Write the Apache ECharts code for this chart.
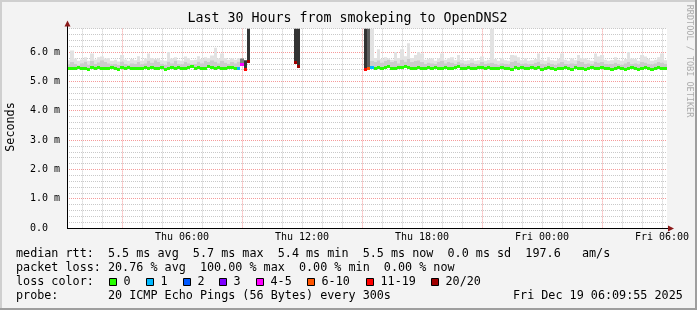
<!DOCTYPE html>
<html><head><meta charset="utf-8">
<script src="https://cdn.jsdelivr.net/npm/echarts@6/dist/echarts.min.js"></script>
<style>html,body{margin:0;padding:0;background:#f3f3f3}#c{width:697px;height:310px}</style>
</head><body><div id="c"></div>
<script>
// ---- data: 180 bins of 10 minutes, Thu 00:15 .. Fri 06:15 (ms) ----
const median = [
5.46,5.44,5.47,5.50,5.45,5.47,5.43,5.48,5.45,5.49,
5.47,5.44,5.46,5.49,5.45,5.43,5.48,5.46,5.50,5.45,
5.47,5.44,5.46,5.48,5.45,5.50,5.47,5.44,5.48,5.43,
5.47,5.50,5.45,5.48,5.44,5.46,5.49,5.51,5.46,5.48,
5.45,5.47,5.51,5.48,5.45,5.49,5.47,5.44,5.48,5.50,
5.47,5.46,5.58,5.43,5.68,null,null,null,null,null,
null,null,null,null,null,null,null,null,5.66,5.54,
null,null,null,null,null,null,null,null,null,null,
null,null,null,null,null,null,null,null,null,5.43,
5.46,5.48,5.47,5.50,5.46,5.48,5.51,5.47,5.45,5.49,
5.48,5.51,5.49,5.47,5.45,5.50,5.47,5.44,5.49,5.47,
5.50,5.47,5.45,5.49,5.47,5.44,5.48,5.51,5.47,5.45,
5.49,5.47,5.44,5.48,5.50,5.46,5.48,5.47,5.44,5.47,
5.49,5.45,5.47,5.43,5.48,5.46,5.50,5.47,5.44,5.48,
5.45,5.48,5.43,5.46,5.49,5.45,5.43,5.47,5.45,5.48,
5.46,5.43,5.48,5.45,5.47,5.43,5.46,5.49,5.45,5.44,
5.48,5.45,5.47,5.43,5.46,5.49,5.45,5.43,5.46,5.48,
5.46,5.43,5.47,5.49,5.45,5.43,5.46,5.48,5.45,5.46
];
const smokeMid = [
5.58,5.66,5.60,5.55,5.62,5.68,5.57,5.70,5.60,5.65,
5.72,5.66,5.62,5.58,5.60,5.56,5.68,5.60,5.57,5.62,
5.60,5.66,5.58,5.62,5.70,5.64,5.72,5.66,5.60,5.57,
5.68,5.62,5.70,5.60,5.58,5.66,5.62,5.58,5.60,5.68,
5.62,5.70,5.66,5.72,5.68,5.62,5.70,5.64,5.60,5.66,
5.62,5.68,5.78,5.72,6.80,null,null,null,null,null,
null,null,null,null,null,null,null,null,6.80,6.80,
null,null,null,null,null,null,null,null,null,null,
null,null,null,null,null,null,null,null,null,6.80,
6.80,5.70,5.66,5.72,5.64,5.70,5.74,5.66,5.70,5.62,
5.74,5.68,5.76,5.66,5.70,5.72,5.66,5.60,5.64,5.62,
5.60,5.66,5.70,5.62,5.66,5.64,5.60,5.68,5.62,5.58,
5.60,5.64,5.60,5.58,5.66,5.60,5.62,5.64,5.60,5.57,
5.62,5.60,5.58,5.66,5.70,5.64,5.60,5.62,5.58,5.60,
5.64,5.68,5.60,5.58,5.64,5.60,5.57,5.62,5.66,5.60,
5.58,5.62,5.60,5.70,5.66,5.60,5.62,5.58,5.68,5.64,
5.66,5.60,5.58,5.60,5.64,5.60,5.57,5.62,5.66,5.60,
5.62,5.58,5.66,5.64,5.60,5.58,5.62,5.66,5.64,5.60
];
const smokePeak = [
5.72,6.05,5.78,5.70,5.75,5.82,5.70,5.95,5.75,5.82,
5.85,5.78,5.80,5.70,5.74,5.68,5.90,5.75,5.70,5.76,
5.72,5.86,5.70,5.78,5.95,5.80,5.76,5.78,5.72,5.70,
6.00,5.78,5.82,5.72,5.70,5.85,5.80,5.72,5.74,5.86,
5.76,5.82,5.80,5.88,6.15,5.78,5.95,5.80,5.74,5.78,
5.74,5.80,5.78,5.72,6.80,null,null,null,null,null,
null,null,null,null,null,null,null,null,6.80,6.80,
null,null,null,null,null,null,null,null,null,null,
null,null,null,null,null,null,null,null,null,6.80,
6.80,6.80,5.80,6.10,5.76,5.82,5.78,5.74,6.00,5.80,
6.10,5.86,6.30,5.80,5.90,6.00,5.95,5.74,5.76,5.78,
5.70,5.78,5.95,5.74,5.80,5.82,5.72,5.90,5.74,5.70,
5.72,5.78,5.70,5.72,5.85,5.70,5.74,6.80,5.76,5.70,
5.80,5.72,5.70,5.90,5.88,5.82,5.72,5.78,5.70,5.72,
5.76,5.95,5.74,5.70,5.82,5.72,5.70,5.76,5.95,5.74,
5.70,5.78,5.72,5.90,5.80,5.78,5.74,5.70,5.95,5.85,
5.90,5.74,5.70,5.72,5.82,5.74,5.70,5.76,6.00,5.78,
5.76,5.70,5.90,5.85,5.76,5.70,5.74,5.82,5.95,5.72
];
const lossCount = [
0,0,0,0,0,0,0,0,0,0, 0,0,0,0,0,0,0,0,0,0,
0,0,0,0,0,0,0,0,0,0, 0,0,0,0,0,0,0,0,0,0,
0,0,0,0,0,0,0,0,0,0, 0,1,5,15,20,null,null,null,null,null,
null,null,null,null,null,null,null,null,20,20,
null,null,null,null,null,null,null,null,null,null,
null,null,null,null,null,null,null,null,null,15,
8,1,0,0,0,0,0,0,0,0, 0,0,0,0,0,0,0,0,0,0,
0,0,0,0,0,0,0,0,0,0, 0,0,0,0,0,0,0,0,0,0,
0,0,0,0,0,0,0,0,0,0, 0,0,0,0,0,0,0,0,0,0,
0,0,0,0,0,0,0,0,0,0, 0,0,0,0,0,0,0,0,0,0,
0,0,0,0,0,0,0,0,0,0, 0,0,0,0,0,0,0,0,0,0
];
const xTickLabels = ['Thu 06:00','Thu 12:00','Thu 18:00','Fri 00:00','Fri 06:00'];
const yTickLabels = ['0.0','1.0 m','2.0 m','3.0 m','4.0 m','5.0 m','6.0 m'];
const lossLegend = ['0','1','2','3','4-5','6-10','11-19','20/20'];
const lossColors = ['#26ff00','#00b8ff','#0059ff','#7e00ff','#ff00ff','#ff5500','#ff0000','#a00000'];
const statsLines = [
  'median rtt:  5.5 ms avg  5.7 ms max  5.4 ms min  5.5 ms now  0.0 ms sd  197.6   am/s',
  'packet loss: 20.76 % avg  100.00 % max  0.00 % min  0.00 % now',
  'loss color:',
  'probe:       20 ICMP Echo Pings (56 Bytes) every 300s'
];
const stamp = 'Fri Dec 19 06:09:55 2025';
const titleText = 'Last 30 Hours from smokeping to OpenDNS2';

// ---- layout ----
const MONO = 'DejaVu Sans Mono';
const G = {left: 67, top: 28.6, width: 600, height: 199.4};
const nBins = median.length;
const quarterCats = Array.from({length: 121}, (_, j) => String(j));
const yCats = Array.from({length: 35}, (_, j) => String(j));
const GREY = '#c9c9c9', PINK = '#f59a9a';

function lossColor(l) {
  if (l <= 3) return lossColors[l];
  if (l <= 5) return lossColors[4];
  if (l <= 10) return lossColors[5];
  if (l <= 19) return lossColors[6];
  return lossColors[7];
}
function heavySmoke(l) {
  if (l >= 11) return '#333333';
  if (l >= 6) return '#5e5e5e';
  return '#808080';
}

const seriesData = [];
for (let i = 0; i < nBins; i++) {
  if (median[i] != null) seriesData.push([i, median[i], smokeMid[i], smokePeak[i], lossCount[i]]);
}

function renderItem(params, api) {
  const i = api.value(0), med = api.value(1), mid = api.value(2), peak = api.value(3), l = api.value(4);
  const x0 = Math.round(api.coord([i, 0])[0]);
  const x1 = Math.round(api.coord([i + 1, 0])[0]);
  const w = x1 - x0;
  const y = v => api.coord([i, v])[1];
  const ch = [];
  if (l <= 1) {
    ch.push({type: 'rect', shape: {x: x0, y: y(peak), width: w, height: y(mid) - y(peak)}, style: {fill: '#e2e2e2'}});
    ch.push({type: 'rect', shape: {x: x0, y: y(mid), width: w, height: y(med) - y(mid)}, style: {fill: '#cbcbcb'}});
  } else {
    ch.push({type: 'rect', shape: {x: x0, y: y(peak), width: w, height: y(med) - y(peak)}, style: {fill: heavySmoke(l)}});
  }
  const ym = Math.round(y(med));
  ch.push({type: 'rect', shape: {x: x0, y: ym - 1, width: w, height: 3}, style: {fill: lossColor(l)}});
  return {type: 'group', children: ch};
}

const graphics = [];
// frame
graphics.push({type: 'rect', z: -10, shape: {x: 0, y: 0, width: 697, height: 2}, style: {fill: '#cfcfcf'}});
graphics.push({type: 'rect', z: -10, shape: {x: 0, y: 0, width: 2, height: 310}, style: {fill: '#cfcfcf'}});
graphics.push({type: 'rect', z: -10, shape: {x: 0, y: 308, width: 697, height: 2}, style: {fill: '#9e9e9e'}});
graphics.push({type: 'rect', z: -10, shape: {x: 695, y: 0, width: 2, height: 310}, style: {fill: '#9e9e9e'}});
// axis lines + arrows
graphics.push({type: 'line', z: 50, shape: {x1: 67.5, y1: 24, x2: 67.5, y2: 228.5}, style: {stroke: '#000', lineWidth: 1}});
graphics.push({type: 'line', z: 50, shape: {x1: 67, y1: 228.5, x2: 669, y2: 228.5}, style: {stroke: '#000', lineWidth: 1}});
graphics.push({type: 'polygon', z: 51, shape: {points: [[64.5, 26.5], [70.5, 26.5], [67.5, 20.5]]}, style: {fill: '#8b1a1a'}});
graphics.push({type: 'polygon', z: 51, shape: {points: [[668, 225.5], [668, 231.5], [674, 228.5]]}, style: {fill: '#8b1a1a'}});
// texts
graphics.push({type: 'text', z: 60, x: 347.5, y: 19, style: {text: titleText, fontFamily: MONO, fontSize: 13.3, fill: '#000', align: 'center', verticalAlign: 'middle'}});
graphics.push({type: 'text', z: 60, x: 11, y: 127, rotation: Math.PI / 2, style: {text: 'Seconds', fontFamily: MONO, fontSize: 11.75, fill: '#000', align: 'center', verticalAlign: 'middle'}});
graphics.push({type: 'text', z: 60, x: 689, y: 61, rotation: -Math.PI / 2, style: {text: 'RRDTOOL / TOBI OETIKER', fontFamily: MONO, fontSize: 8.5, fill: '#ababab', align: 'center', verticalAlign: 'middle'}});
const lineY = [254.3, 268.3, 282.3, 296.2];
statsLines.forEach((t, k) => {
  graphics.push({type: 'text', z: 60, x: 16, y: lineY[k], style: {text: t, fontFamily: MONO, fontSize: 11.75, fill: '#000', align: 'left', verticalAlign: 'middle'}});
});
graphics.push({type: 'text', z: 60, x: 513, y: lineY[3], style: {text: stamp, fontFamily: MONO, fontSize: 11.75, fill: '#000', align: 'left', verticalAlign: 'middle'}});
const boxX = [109, 145.7, 182.7, 219, 256, 307, 365.7, 431];
lossLegend.forEach((t, k) => {
  const bx = Math.round(boxX[k]) + 0.5;
  graphics.push({type: 'rect', z: 60, shape: {x: bx, y: 278.5, width: 7, height: 7}, style: {fill: lossColors[k], stroke: '#000', lineWidth: 1}});
  graphics.push({type: 'text', z: 60, x: bx + 14, y: lineY[2], style: {text: t, fontFamily: MONO, fontSize: 11.75, fill: '#000', align: 'left', verticalAlign: 'middle'}});
});

const chart = echarts.init(document.getElementById('c'), null, {renderer: 'canvas'});
chart.setOption({
  animation: false,
  backgroundColor: '#f3f3f3',
  grid: {left: G.left, top: G.top, width: G.width, height: G.height, show: true, backgroundColor: '#ffffff', borderWidth: 0, containLabel: false},
  xAxis: [
    {type: 'value', min: 0, max: nBins, show: false, position: 'top'},
    {type: 'category', data: quarterCats, boundaryGap: false, position: 'top',
     axisLine: {show: false}, axisTick: {show: false}, axisLabel: {show: false},
     splitLine: {show: true, interval: (j) => j % 4 === 3 && j % 24 !== 11, lineStyle: {color: GREY, type: [1, 1], width: 1}}},
    {type: 'category', data: quarterCats, boundaryGap: false, position: 'bottom',
     axisLine: {show: false}, axisTick: {show: false},
     axisLabel: {show: true, interval: (j) => j % 24 === 23, formatter: (v) => xTickLabels[(Number(v) - 23) / 24] || '',
                 fontFamily: MONO, fontSize: 10, color: '#000', margin: 4},
     splitLine: {show: true, interval: (j) => j % 24 === 11, lineStyle: {color: PINK, type: [1, 1], width: 1}}}
  ],
  yAxis: [
    {type: 'value', min: 0, max: 6.8, show: false, position: 'right'},
    {type: 'category', data: yCats, boundaryGap: false, position: 'right',
     axisLine: {show: false}, axisTick: {show: false}, axisLabel: {show: false},
     splitLine: {show: true, interval: (j) => j % 5 !== 0, lineStyle: {color: GREY, type: [1, 1], width: 1}}},
    {type: 'category', data: yCats, boundaryGap: false, position: 'left',
     axisLine: {show: false}, axisTick: {show: false},
     axisLabel: {show: true, interval: (j) => j % 5 === 0, formatter: (v) => yTickLabels[Number(v) / 5] || '',
                 fontFamily: MONO, fontSize: 10, color: '#000', margin: 37, align: 'left'},
     splitLine: {show: true, interval: (j) => j % 5 === 0 && j > 0, lineStyle: {color: PINK, type: [1, 1], width: 1}}}
  ],
  series: [{
    type: 'custom', xAxisIndex: 0, yAxisIndex: 0, clip: true, silent: true,
    data: seriesData, encode: {x: 0, y: 1}, renderItem: renderItem
  }],
  graphic: {elements: graphics}
});
</script>
</body></html>
